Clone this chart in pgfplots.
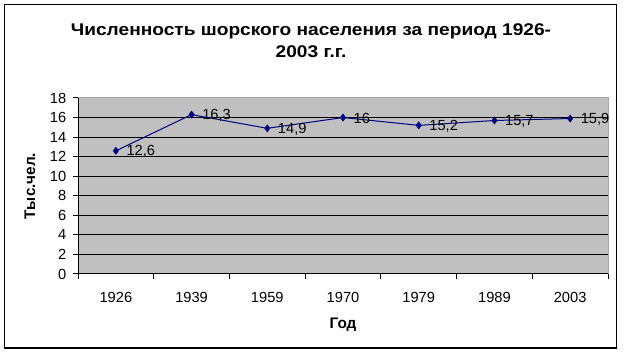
\documentclass[border=0pt]{standalone}
\usepackage{fontspec}
\setmainfont{Liberation Sans}
\usepackage{pgfplots}
\pgfplotsset{compat=1.18}
\definecolor{plotbg}{HTML}{C0C0C0}
\definecolor{navyline}{HTML}{000080}
\begin{document}
\begin{tikzpicture}[x=0.75pt,y=0.75pt]
\path (0,0) rectangle (624,356);
\draw[line width=1.3pt] (4.5,8) rectangle (616.5,351.5);
\node[align=center, xscale=1.13, font=\fontsize{12.7}{16.5}\selectfont\bfseries] at (311,315)
  {Численность шорского населения за период 1926-\\2003 г.г.};
\begin{axis}[
  at={(58.5pt,61.5pt)}, anchor=south west,
  scale only axis, width=397.5pt, height=132pt,
  xmin=-0.5, xmax=6.5, ymin=0, ymax=18,
  axis background/.style={fill=plotbg, draw=gray!70, line width=0.75pt},
  axis x line*=bottom, axis y line*=left,
  axis line style={black, line width=0.75pt, -},
  xtick={0,1,2,3,4,5,6},
  xticklabels={1926,1939,1959,1970,1979,1989,2003},
  minor xtick={-0.5,0.5,1.5,2.5,3.5,4.5,5.5,6.5},
  major x tick style={draw=none},
  minor x tick style={black, line width=0.75pt},
  ytick={0,2,4,6,8,10,12,14,16},
  extra y ticks={18},
  extra y tick style={ymajorgrids=false, major y tick style={black, line width=0.75pt}},
  major y tick style={black, line width=0.75pt},
  tick align=outside,
  major tick length=3.75pt, minor tick length=3.75pt,
  ymajorgrids, major grid style={black, line width=0.75pt},
  tick label style={font=\fontsize{11}{13}\selectfont},
  /pgf/number format/assume math mode=true,
  xticklabel style={yshift=-6.5pt},
  yticklabel style={xshift=-1.5pt},
  xlabel={Год}, ylabel={Тыс.чел.},
  every axis x label/.style={at={(axis description cs:0.5,0)}, yshift=-38.25pt, anchor=center, font=\fontsize{11.5}{13}\selectfont\bfseries},
  every axis y label/.style={at={(axis description cs:0,0.5)}, xshift=-36pt, rotate=90, anchor=center, font=\fontsize{11.5}{13}\selectfont\bfseries},
  nodes near coords,
  point meta=explicit symbolic,
  every node near coord/.append style={anchor=west, xshift=4.3pt, yshift=-0.5pt, font=\fontsize{11}{13}\selectfont, text=black},
  clip=false,
]
\addplot[navyline, line width=0.75pt, mark=diamond*, mark size=2.4pt, mark options={fill=navyline, draw=navyline}]
  coordinates {
    (0,12.6) [12,6]
    (1,16.3) [16,3]
    (2,14.9) [14,9]
    (3,16.0) [16]
    (4,15.2) [15,2]
    (5,15.7) [15,7]
    (6,15.9) [15,9]
  };
\end{axis}
\end{tikzpicture}
\end{document}
